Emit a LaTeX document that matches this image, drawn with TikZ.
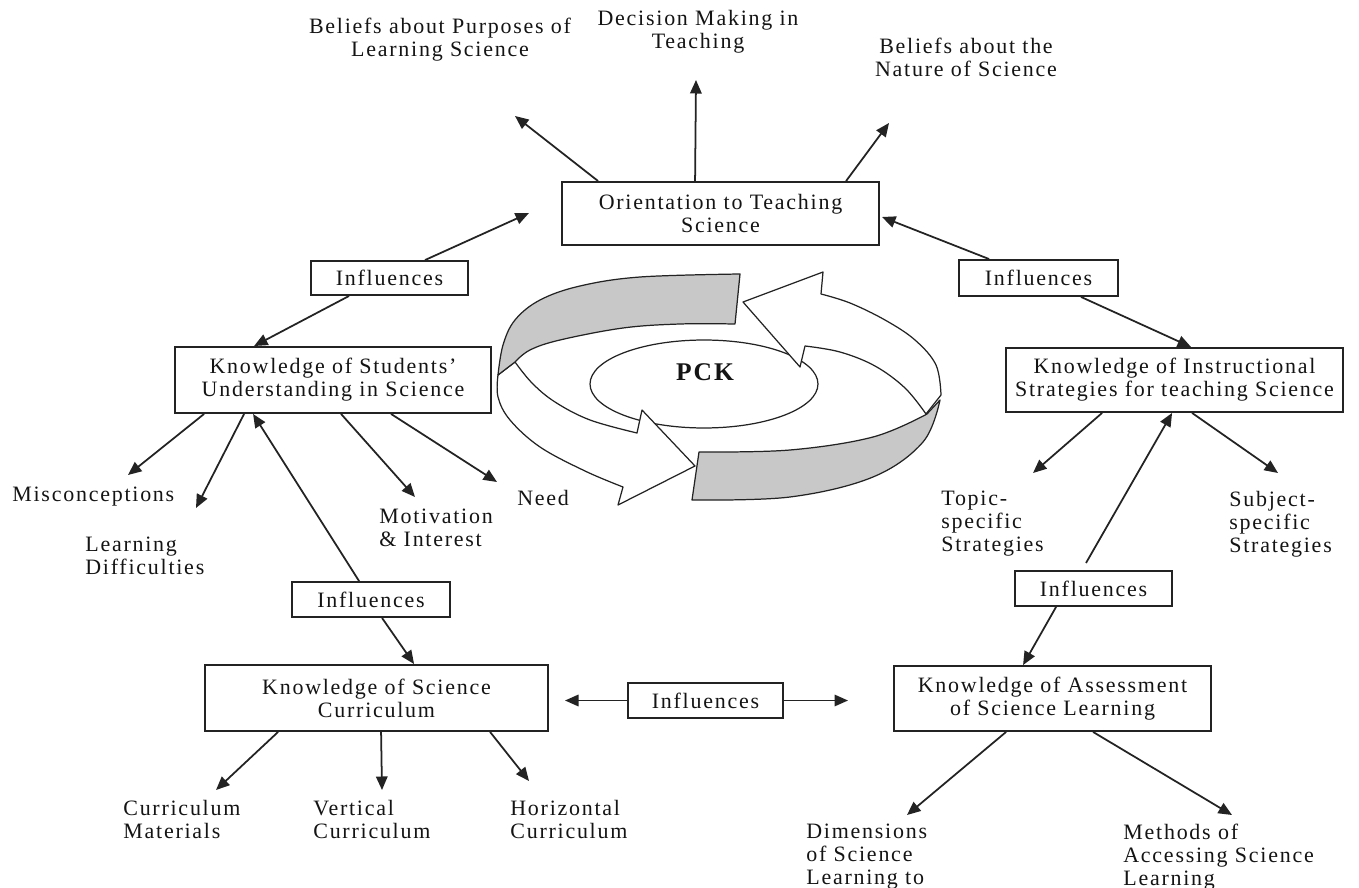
\documentclass[tikz,border=0pt]{standalone}
\usepackage{fontspec}
\setmainfont{Liberation Serif}[LetterSpace=8]
\usetikzlibrary{arrows.meta,calc}
\definecolor{ink}{RGB}{20,20,20}
\definecolor{lin}{RGB}{35,35,35}
\definecolor{band}{RGB}{200,200,200}
\begin{document}
\begin{tikzpicture}[x=0.02cm,y=-0.02cm,
  txt/.style={font=\fontsize{12.5}{13.1}\selectfont, text=ink, inner sep=0pt, align=center},
  ltxt/.style={txt, align=left, anchor=west},
  box/.style={txt, draw=lin, line width=1.1pt, fill=white},
  arr/.style={draw=lin, line width=1pt, -{Triangle[length=0.27cm,width=0.23cm]}},
  pck/.style={draw=lin, line width=0.7pt, line join=round}]
\useasboundingbox (0,0) rectangle (1359,888);
\fill[white] (0,0) rectangle (1359,888);

% ---------- PCK cycle ----------
\draw[pck, fill=white] (704,384) ellipse [x radius=2.28cm, y radius=0.88cm];
\node[font=\fontsize{14.5}{16}\selectfont\bfseries, text=ink, inner sep=0pt] (pcklbl) at (705,372) {PCK};
\draw[pck, fill=white] (941,395) -- plot[smooth, tension=0.6] coordinates {(941,395) (936,365) (915,340) (885,320) (850,303) (821,294)} -- (823,272) -- (743,302) -- (800,367) -- (805,346) -- plot[smooth, tension=0.6] coordinates {(805,346) (840,352) (875,366) (905,388) (926,414)} -- cycle;
\draw[pck, fill=white] (498,375) -- plot[smooth, tension=0.6] coordinates {(498,375) (498,397) (510,420) (540,447) (585,471) (623,487)} -- (618,505) -- (695,466) -- (642,410) -- (637,433) -- plot[smooth, tension=0.6] coordinates {(637,433) (590,420) (555,402) (532,383) (515,362)} -- cycle;
\draw[pck, fill=band] (740,274) -- (735,324) -- plot[smooth, tension=0.6] coordinates {(735,324) (680,324) (623,328) (560,340) (530,350) (515,362)} -- (498,375) -- plot[smooth, tension=0.6] coordinates {(498,375) (503,345) (515,320) (540,300) (580,286) (640,277) (740,274)} -- cycle;
\draw[pck, fill=band] (699,452) -- (692,500) -- plot[smooth, tension=0.6] coordinates {(692,500) (790,497) (873,477) (923,442) (940,400)} -- (927,414) -- plot[smooth, tension=0.6] coordinates {(927,414) (873,437) (790,450) (699,452)} -- cycle;

% ---------- boxes ----------
\node[box, minimum width=6.34cm, minimum height=1.26cm] (orient) at (720.5,213.5) {Orientation to Teaching\\Science};
\node[box, minimum width=3.14cm, minimum height=0.68cm] (inflTL) at (389.5,278) {Influences};
\node[box, minimum width=3.18cm, minimum height=0.72cm] (inflTR) at (1038.5,278) {Influences};
\node[box, minimum width=6.32cm, minimum height=1.32cm] (stud) at (333,380) {Knowledge of Students'\\Understanding in Science};
\node[box, minimum width=6.74cm, minimum height=1.28cm] (instr) at (1174.5,380) {Knowledge of Instructional\\Strategies for teaching Science};
\node[box, minimum width=3.16cm, minimum height=0.70cm] (inflBL) at (371,599.5) {Influences};
\node[box, minimum width=3.14cm, minimum height=0.70cm] (inflBR) at (1093.5,588.5) {Influences};
\node[box, minimum width=6.86cm, minimum height=1.32cm] (curr) at (376.5,698) {Knowledge of Science\\Curriculum};
\node[box, minimum width=3.10cm, minimum height=0.70cm] (inflM) at (705.5,700.5) {Influences};
\node[box, minimum width=6.34cm, minimum height=1.30cm] (assess) at (1052.5,698.5) {Knowledge of Assessment\\of Science Learning};

% ---------- free texts ----------
\node[txt] (tBP) at (440,40) {Beliefs about Purposes of\\Learning Science};
\node[txt] (tDM) at (698,32) {Decision Making in\\Teaching};
\node[txt] (tBN) at (966,57) {Beliefs about the\\Nature of Science};
\node[ltxt] (tMis) at (12,497) {Misconceptions};
\node[ltxt] (tLD) at (85,556) {Learning\\Difficulties};
\node[ltxt] (tMot) at (379,528) {Motivation\\\& Interest};
\node[ltxt] (tNeed) at (517,498) {Need};
\node[ltxt] (tTop) at (941,524) {Topic-\\specific\\Strategies};
\node[ltxt] (tSub) at (1229,524) {Subject-\\specific\\Strategies};
\node[ltxt] (tCM) at (123,819) {Curriculum\\Materials};
\node[ltxt] (tVC) at (313,819) {Vertical\\Curriculum};
\node[ltxt] (tHC) at (510,819) {Horizontal\\Curriculum};
\node[ltxt] (tDim) at (806,857) {Dimensions\\of Science\\Learning to};
\node[ltxt] (tMeth) at (1123,857) {Methods of\\Accessing Science\\Learning};

% ---------- free arrow ends ----------
\coordinate (c1) at (515,116);
\coordinate (c2) at (696,80);
\coordinate (c3) at (889,123);
\coordinate (c4) at (529,213);
\coordinate (c6) at (882,217);
\coordinate (c8) at (128,475);
\coordinate (c9) at (196,508);
\coordinate (c11) at (415,497);
\coordinate (c12) at (497,482);
\coordinate (c14) at (216,790);
\coordinate (c15) at (382,790);
\coordinate (c16) at (529,781);
\coordinate (c17) at (565,700.5);
\coordinate (c18) at (848,700.5);
\coordinate (c19) at (1033,473);
\coordinate (c20) at (1278,473);
\coordinate (c21) at (1086,563);
\coordinate (c23) at (907,815);
\coordinate (c24) at (1232,815);

% ---------- connectors ----------
\draw[arr] ($(orient.north west)+(37,0)$) -- (c1);
\draw[arr] ($(orient.north west)+(134,0)$) -- (c2);
\draw[arr] ($(orient.north west)+(285,0)$) -- (c3);
\draw[arr] ($(inflTL.north west)+(115,0)$) -- (c4);
\draw[arr] ($(inflTL.south west)+(39,0)$) -- ($(stud.north west)+(80,0)$);
\draw[arr] ($(inflTR.north west)+(31,0)$) -- (c6);
\draw[arr] ($(inflTR.south west)+(123,0)$) -- ($(instr.north west)+(186,0)$);
\draw[arr] ($(stud.south west)+(30,0)$) -- (c8);
\draw[arr] ($(stud.south west)+(70,0)$) -- (c9);
\draw[arr] ($(inflBL.north west)+(68,0)$) -- ($(stud.south west)+(79,0)$);
\draw[arr] ($(stud.south west)+(167,0)$) -- (c11);
\draw[arr] ($(stud.south west)+(217,0)$) -- (c12);
\draw[arr] ($(inflBL.south west)+(91,0)$) -- ($(curr.north west)+(210,0)$);
\draw[arr] ($(curr.south west)+(74,0)$) -- (c14);
\draw[arr] ($(curr.south west)+(177,0)$) -- (c15);
\draw[arr] ($(curr.south west)+(286,0)$) -- (c16);
\draw[arr] (inflM.west) -- (c17);
\draw[arr] (inflM.east) -- (c18);
\draw[arr] ($(instr.south west)+(97,0)$) -- (c19);
\draw[arr] ($(instr.south west)+(187,0)$) -- (c20);
\draw[arr] (c21) -- ($(instr.south west)+(167,0)$);
\draw[arr] ($(inflBR.south west)+(42,0)$) -- ($(assess.north west)+(130,0)$);
\draw[arr] ($(assess.south west)+(113,0)$) -- (c23);
\draw[arr] ($(assess.south west)+(200,0)$) -- (c24);
\end{tikzpicture}
\end{document}
